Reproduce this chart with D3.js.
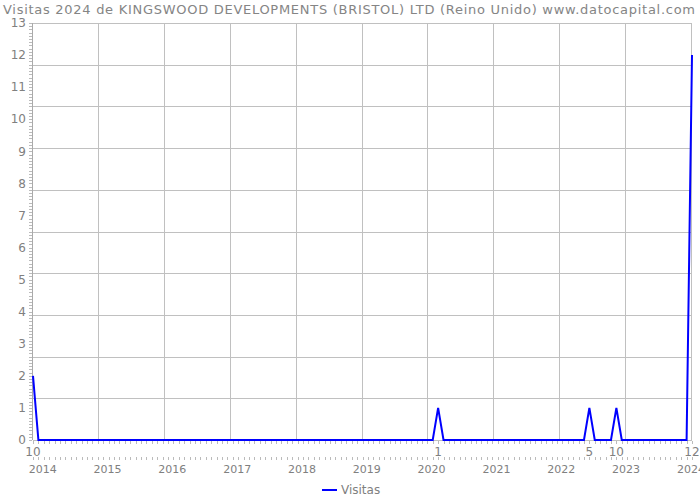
<!DOCTYPE html>
<html>
<head>
<meta charset="utf-8">
<script src="https://cdn.jsdelivr.net/npm/d3@7"></script>
<style>
  html, body { margin: 0; padding: 0; background: #fff; overflow: hidden; }
  svg { display: block; font-family: "DejaVu Sans", sans-serif; }
</style>
</head>
<body>
<svg id="chart" width="700" height="500"></svg>
<script>
// ---- Data ----
const title = "Visitas 2024 de KINGSWOOD DEVELOPMENTS (BRISTOL) LTD (Reino Unido) www.datocapital.com";
const seriesName = "Visitas";
const startMonth = new Date(2013, 9, 1);   // Oct 2013
const endMonth = new Date(2023, 11, 1);    // Dec 2023
const visitas = [
  2, 0, 0,                                  // 2013 Oct-Dec
  0, 0, 0, 0, 0, 0, 0, 0, 0, 0, 0, 0,       // 2014
  0, 0, 0, 0, 0, 0, 0, 0, 0, 0, 0, 0,       // 2015
  0, 0, 0, 0, 0, 0, 0, 0, 0, 0, 0, 0,       // 2016
  0, 0, 0, 0, 0, 0, 0, 0, 0, 0, 0, 0,       // 2017
  0, 0, 0, 0, 0, 0, 0, 0, 0, 0, 0, 0,       // 2018
  0, 0, 0, 0, 0, 0, 0, 0, 0, 0, 0, 0,       // 2019
  1, 0, 0, 0, 0, 0, 0, 0, 0, 0, 0, 0,       // 2020
  0, 0, 0, 0, 0, 0, 0, 0, 0, 0, 0, 0,       // 2021
  0, 0, 0, 0, 1, 0, 0, 0, 0, 1, 0, 0,       // 2022
  0, 0, 0, 0, 0, 0, 0, 0, 0, 0, 0, 12       // 2023
];
const yearLabels = ["2014","2015","2016","2017","2018","2019","2020","2021","2022","2023","2024"];
const yTickLabels = [0,1,2,3,4,5,6,7,8,9,10,11,12,13];
const yMax = 13;

// ---- Layout ----
const months = d3.timeMonth.range(startMonth, d3.timeMonth.offset(endMonth, 1));
const svg = d3.select("#chart");
const mLeft = 33, mRight = 692, mTop = 23, mBottom = 440;
const x = d3.scaleLinear().domain([0, months.length - 1]).range([mLeft, mRight]);
const y = d3.scaleLinear().domain([0, yMax]).range([mBottom, mTop]);
const gridColor = "#c0c0c0";
const textColor = "#808080";

// Title
svg.append("text")
  .attr("x", 3).attr("y", 14)
  .attr("font-size", 13).attr("fill", "#858585")
  .attr("textLength", 692).attr("lengthAdjust", "spacing")
  .text(title);

// Gridlines: 10 equal divisions
const g = svg.append("g");
d3.range(0, 11).forEach(k => {
  const yy = Math.round(y(yMax * k / 10)) + 0.5;
  g.append("line").attr("x1", mLeft).attr("x2", mRight).attr("y1", yy).attr("y2", yy)
    .attr("stroke", gridColor).attr("stroke-width", 1);
  const xx = Math.round(x((months.length - 1) * k / 10)) - 0.5;
  g.append("line").attr("x1", xx).attr("x2", xx).attr("y1", mTop).attr("y2", mBottom)
    .attr("stroke", gridColor).attr("stroke-width", 1);
});

// Y axis minor ticks
d3.range(0, yMax * 10 + 1).forEach(i => {
  const yy = Math.round(y(i / 10)) + 0.5;
  g.append("line").attr("x1", 29).attr("x2", 32).attr("y1", yy).attr("y2", yy)
    .attr("stroke", "#bbb").attr("stroke-width", 1);
});
g.append("line").attr("x1", 32.5).attr("x2", 32.5).attr("y1", mTop).attr("y2", mBottom)
  .attr("stroke", "#aaa");

// Y labels
svg.append("g").selectAll("text").data(yTickLabels).join("text")
  .attr("x", 26).attr("y", d => y(d))
  .attr("dy", "0.35em")
  .attr("text-anchor", "end")
  .attr("font-size", 12).attr("fill", textColor)
  .text(d => d);

// X axis month ticks (two rows)
months.forEach((m, i) => {
  const xx = Math.round(x(i)) + 0.5;
  g.append("line").attr("x1", xx).attr("x2", xx).attr("y1", 441).attr("y2", 444)
    .attr("stroke", "#bbb");
  g.append("line").attr("x1", xx).attr("x2", xx).attr("y1", 457).attr("y2", 460)
    .attr("stroke", "#bbb");
});

// Month labels at first point and non-zero points
svg.append("g").selectAll("text")
  .data(months.map((m, i) => ({ i, m, v: visitas[i] })).filter(d => d.i === 0 || d.v > 0))
  .join("text")
  .attr("x", d => x(d.i)).attr("y", 456)
  .attr("text-anchor", "middle")
  .attr("font-size", 12).attr("fill", textColor)
  .text(d => d.m.getMonth() + 1);

// Year labels (positioned at January of each year; 2024 extends past the last month)
const yearData = yearLabels.map(lab => ({
  lab,
  i: d3.timeMonth.count(startMonth, new Date(+lab, 0, 1))
}));
svg.append("g").selectAll("text").data(yearData).join("text")
  .attr("x", d => x(d.i) - 6.5).attr("y", 473)
  .attr("text-anchor", "middle")
  .attr("font-size", 11).attr("fill", textColor)
  .text(d => d.lab);

// Line
svg.append("path")
  .datum(visitas)
  .attr("fill", "none")
  .attr("stroke", "#0000ff")
  .attr("stroke-width", 2)
  .attr("d", d3.line().x((d, i) => x(i)).y(d => y(d)));

// Legend
svg.append("line").attr("x1", 322).attr("x2", 337).attr("y1", 490).attr("y2", 490)
  .attr("stroke", "#0000ff").attr("stroke-width", 2);
svg.append("text").attr("x", 341).attr("y", 490).attr("dy", "0.35em")
  .attr("font-size", 12).attr("fill", textColor).text(seriesName);
</script>
</body>
</html>
